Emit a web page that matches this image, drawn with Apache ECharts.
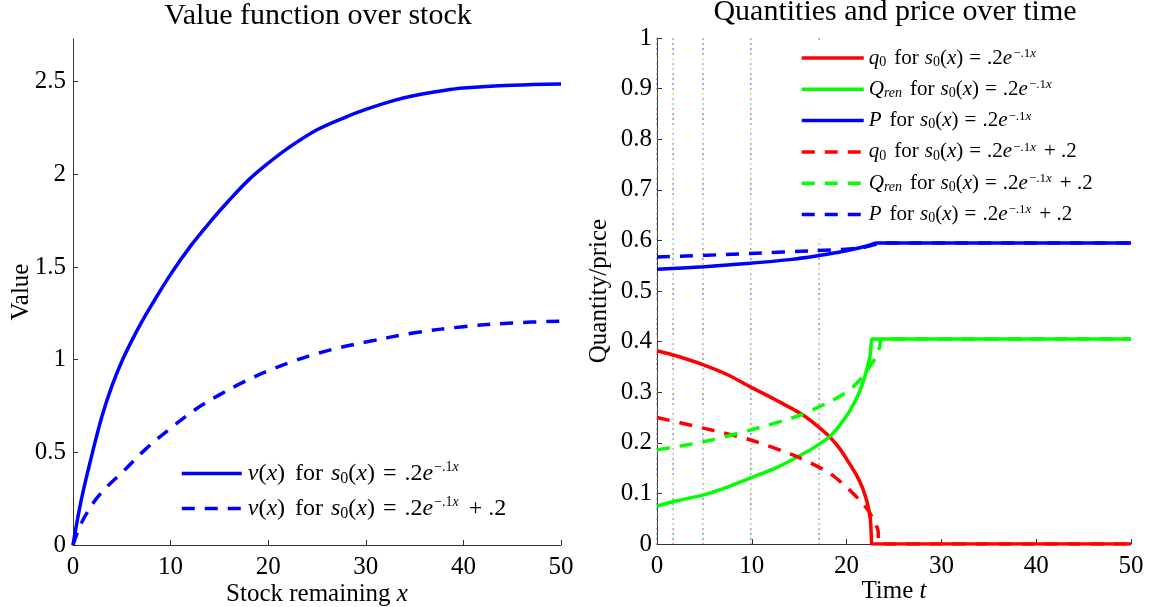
<!DOCTYPE html>
<html>
<head>
<meta charset="utf-8">
<script src="https://cdn.jsdelivr.net/npm/echarts@6/dist/echarts.min.js"></script>
<style>
  html, body { margin: 0; padding: 0; background: #fff; }
  #chart { width: 1150px; height: 607px; }
</style>
</head>
<body>
<div id="chart"></div>
<script>
// left panel: value function v(x)
const vSolid = [[0,0],[0.5,0.15],[1,0.28],[2,0.5],[3,0.7],[4,0.86],[5,0.99],[6,1.1],[7,1.2],[8,1.29],[10,1.46],[12,1.61],[14,1.74],[16,1.86],[18,1.97],[20,2.06],[22,2.14],[25,2.24],[28,2.31],[30,2.35],[33,2.4],[35,2.425],[38,2.452],[40,2.465],[45,2.48],[50,2.487]];
const vDashed = [[0,0],[0.7,0.1],[1.5,0.18],[2.4,0.25],[3.5,0.315],[5,0.39],[7.5,0.52],[10,0.63],[12.5,0.73],[15,0.81],[17.5,0.88],[20,0.94],[22.5,0.99],[25,1.033],[27.5,1.067],[30,1.095],[35,1.145],[40,1.178],[45,1.198],[50,1.208]];

// right panel: quantities and price over time t
const q0Solid = [[0,0.382],[2,0.372],[4.9,0.354],[7.5,0.334],[9.8,0.311],[12.5,0.285],[15.4,0.255],[17,0.232],[18.2,0.212],[19.3,0.188],[20.3,0.159],[21.1,0.134],[21.7,0.11],[22.2,0.08],[22.5,0.05],[22.62,0.01],[22.65,0],[50,0]];
const qRenSolid = [[0,0.075],[2,0.085],[4.9,0.097],[7.5,0.113],[9.8,0.13],[12.5,0.15],[14.7,0.171],[16.5,0.19],[18.2,0.212],[19.3,0.235],[20.3,0.262],[21.1,0.29],[21.7,0.318],[22.2,0.35],[22.5,0.375],[22.62,0.4],[22.7,0.405],[50,0.405]];
const pSolid = [[0,0.543],[5,0.548],[9.8,0.555],[14,0.562],[16.8,0.569],[19,0.576],[20.3,0.581],[21.5,0.586],[22.5,0.591],[23.2,0.595],[50,0.595]];
const q0Dashed = [[0,0.25],[4.9,0.229],[9.8,0.206],[14.7,0.173],[18.2,0.14],[20.3,0.107],[21.7,0.08],[22.3,0.066],[22.9,0.045],[23.3,0.028],[23.5,0],[50,0]];
const qRenDashed = [[0,0.186],[4.9,0.202],[9.8,0.225],[14.7,0.252],[18.2,0.281],[20.3,0.304],[21.7,0.331],[22.6,0.355],[23.2,0.372],[23.5,0.39],[23.7,0.405],[50,0.405]];
const pDashed = [[0,0.567],[9.8,0.574],[16.8,0.58],[20.3,0.583],[22,0.587],[23.2,0.593],[23.8,0.595],[50,0.595]];

// dotted marker lines on the right panel
const markTimes = [0, 1.7, 4.85, 9.9, 17.1];
const markColors = ['#ff4040', '#2a962a', '#4a4aff', '#777777', '#d0d030', '#e050e0', '#40d0d0'];

const leftTicks = [0, 0.5, 1, 1.5, 2, 2.5];

const FONT = 'Liberation Serif';
const BLUE = '#0000ff', RED = '#ff0000', GREEN = '#00ff00';

function richSet(size, lh, gap) {
  const small = Math.round(size * 0.68), tiny = Math.round(size * 0.6);
  return {
    n:    { fontFamily: FONT, fontSize: size, lineHeight: lh, color: '#000' },
    i:    { fontFamily: FONT, fontSize: size, lineHeight: lh, fontStyle: 'italic', color: '#000' },
    w:    { fontFamily: FONT, fontSize: size, lineHeight: lh, color: '#000', padding: [0, gap, 0, gap + 2] },
    eq:   { fontFamily: FONT, fontSize: size, lineHeight: lh, color: '#000', padding: [0, gap, 0, gap] },
    pl:   { fontFamily: FONT, fontSize: size, lineHeight: lh, color: '#000', padding: [0, 0, 0, gap + 2] },
    sub:  { fontFamily: FONT, fontSize: small, lineHeight: Math.round(lh * 0.5), verticalAlign: 'bottom', color: '#000' },
    subi: { fontFamily: FONT, fontSize: small, lineHeight: Math.round(lh * 0.5), verticalAlign: 'bottom', fontStyle: 'italic', color: '#000' },
    sup:  { fontFamily: FONT, fontSize: tiny, lineHeight: Math.round(lh * 0.3), verticalAlign: 'top', color: '#000', padding: [0, 0, 0, 1] },
    supi: { fontFamily: FONT, fontSize: tiny, lineHeight: Math.round(lh * 0.3), verticalAlign: 'top', fontStyle: 'italic', color: '#000' }
  };
}

const sPart = '{w|for}{i|s}{sub|0}{n|(}{i|x}{n|)}{eq|=}{n|.2}{i|e}{sup|−.1}{supi|x}';
const plusPart = '{pl|+ .2}';
const legendText = {
  'v1': '{i|v}{n|(}{i|x}{n|)}' + sPart,
  'v2': '{i|v}{n|(}{i|x}{n|)}' + sPart + plusPart,
  'q1': '{i|q}{sub|0}' + sPart,
  'r1': '{i|Q}{subi|ren}' + sPart,
  'p1': '{i|P}' + sPart,
  'q2': '{i|q}{sub|0}' + sPart + plusPart,
  'r2': '{i|Q}{subi|ren}' + sPart + plusPart,
  'p2': '{i|P}' + sPart + plusPart
};

function curve(name, data, color, dashed, axis, smooth) {
  return {
    name: name,
    type: 'line',
    xAxisIndex: axis, yAxisIndex: axis,
    data: data,
    symbol: 'none',
    smooth: smooth,
    z: 3,
    lineStyle: { color: color, width: 3.5, type: dashed ? [13, 10] : 'solid' },
    itemStyle: { color: color },
    emphasis: { disabled: true }
  };
}

let series = [
  curve('v1', vSolid, BLUE, false, 0, 0.35),
  curve('v2', vDashed, BLUE, true, 0, 0.35)
];

// multi-coloured dotted verticals, one series per colour
markColors.forEach((c, k) => {
  let d = [];
  markTimes.forEach(t => { d.push([t, 1], [t, 0], [t, '-']); });
  series.push({
    type: 'line', xAxisIndex: 1, yAxisIndex: 1, data: d, symbol: 'none', silent: true, z: 1,
    lineStyle: { color: c, width: 1, type: [2, 33], dashOffset: -5 * k }
  });
});

series = series.concat([
  curve('q1', q0Solid, RED, false, 1, 0.25),
  curve('r1', qRenSolid, GREEN, false, 1, 0.25),
  curve('p1', pSolid, BLUE, false, 1, 0.25),
  curve('q2', q0Dashed, RED, true, 1, 0.25),
  curve('r2', qRenDashed, GREEN, true, 1, 0.25),
  curve('p2', pDashed, BLUE, true, 1, 0.25)
]);

const axisCommon = {
  nameMoveOverlap: false,
  axisLine: { lineStyle: { color: '#333', width: 1 } },
  axisTick: { inside: true, length: 5, lineStyle: { color: '#333' } },
  axisLabel: { fontFamily: FONT, fontSize: 25, color: '#000' },
  splitLine: { show: false }
};
const nameStyle = { fontFamily: FONT, fontSize: 25, color: '#000', rich: richSet(25, 28, 6) };

const chart = echarts.init(document.getElementById('chart'));
chart.setOption({
  animation: false,
  backgroundColor: '#fff',
  title: [
    { text: 'Value function over stock', left: 318, top: 1, textAlign: 'center', padding: 0,
      textStyle: { fontFamily: FONT, fontSize: 30, fontWeight: 'normal', color: '#000' } },
    { text: 'Quantities and price over time', left: 895, top: -3, textAlign: 'center', padding: 0,
      textStyle: { fontFamily: FONT, fontSize: 30, fontWeight: 'normal', color: '#000' } }
  ],
  grid: [
    { left: 73, right: 589, top: 39, bottom: 62, outerBoundsMode: 'none' },
    { left: 657, right: 19, top: 38, bottom: 63, outerBoundsMode: 'none' }
  ],
  xAxis: [
    Object.assign({}, axisCommon, {
      type: 'value', gridIndex: 0, min: 0, max: 50, interval: 10,
      axisLabel: Object.assign({}, axisCommon.axisLabel, { margin: 10 }),
      name: 'Stock remaining {i|x}', nameLocation: 'middle', nameGap: 35,
      nameTextStyle: nameStyle
    }),
    Object.assign({}, axisCommon, {
      type: 'value', gridIndex: 1, min: 0, max: 50, interval: 10,
      axisLabel: Object.assign({}, axisCommon.axisLabel, { margin: 10 }),
      name: 'Time {i|t}', nameLocation: 'middle', nameGap: 33,
      nameTextStyle: nameStyle
    })
  ],
  yAxis: [
    Object.assign({}, axisCommon, {
      type: 'value', gridIndex: 0, min: 0, max: 2.73,
      axisTick: Object.assign({}, axisCommon.axisTick, { customValues: leftTicks }),
      axisLabel: Object.assign({}, axisCommon.axisLabel, { customValues: leftTicks, margin: 7 }),
      name: 'Value', nameLocation: 'middle', nameGap: 39,
      nameTextStyle: nameStyle
    }),
    Object.assign({}, axisCommon, {
      type: 'value', gridIndex: 1, min: 0, max: 1, interval: 0.1,
      axisLabel: Object.assign({}, axisCommon.axisLabel, { margin: 5 }),
      name: 'Quantity/price', nameLocation: 'middle', nameGap: 45,
      nameTextStyle: nameStyle
    })
  ],
  legend: [
    {
      data: ['v1', 'v2'], orient: 'vertical', left: 180, top: 460, padding: 0,
      itemWidth: 60, itemHeight: 14, itemGap: 8, selectedMode: false,
      itemStyle: { opacity: 0 },
      lineStyle: { width: 3.5 },
      formatter: n => legendText[n],
      textStyle: { fontFamily: FONT, fontSize: 24, lineHeight: 27, color: '#000', padding: [0, 0, 0, 1], rich: richSet(24, 27, 8) }
    },
    {
      data: ['q1', 'r1', 'p1', 'q2', 'r2', 'p2'], orient: 'vertical', left: 795, top: 43,
      padding: [4, 20, 14, 5], backgroundColor: '#fff',
      itemWidth: 62, itemHeight: 14, itemGap: 9.3, selectedMode: false,
      itemStyle: { opacity: 0 },
      lineStyle: { width: 3.5 },
      formatter: n => legendText[n],
      textStyle: { fontFamily: FONT, fontSize: 21, lineHeight: 22, color: '#000', padding: [0, 0, 0, 0], rich: richSet(21, 22, 6) }
    }
  ],
  series: series
});
</script>
</body>
</html>
